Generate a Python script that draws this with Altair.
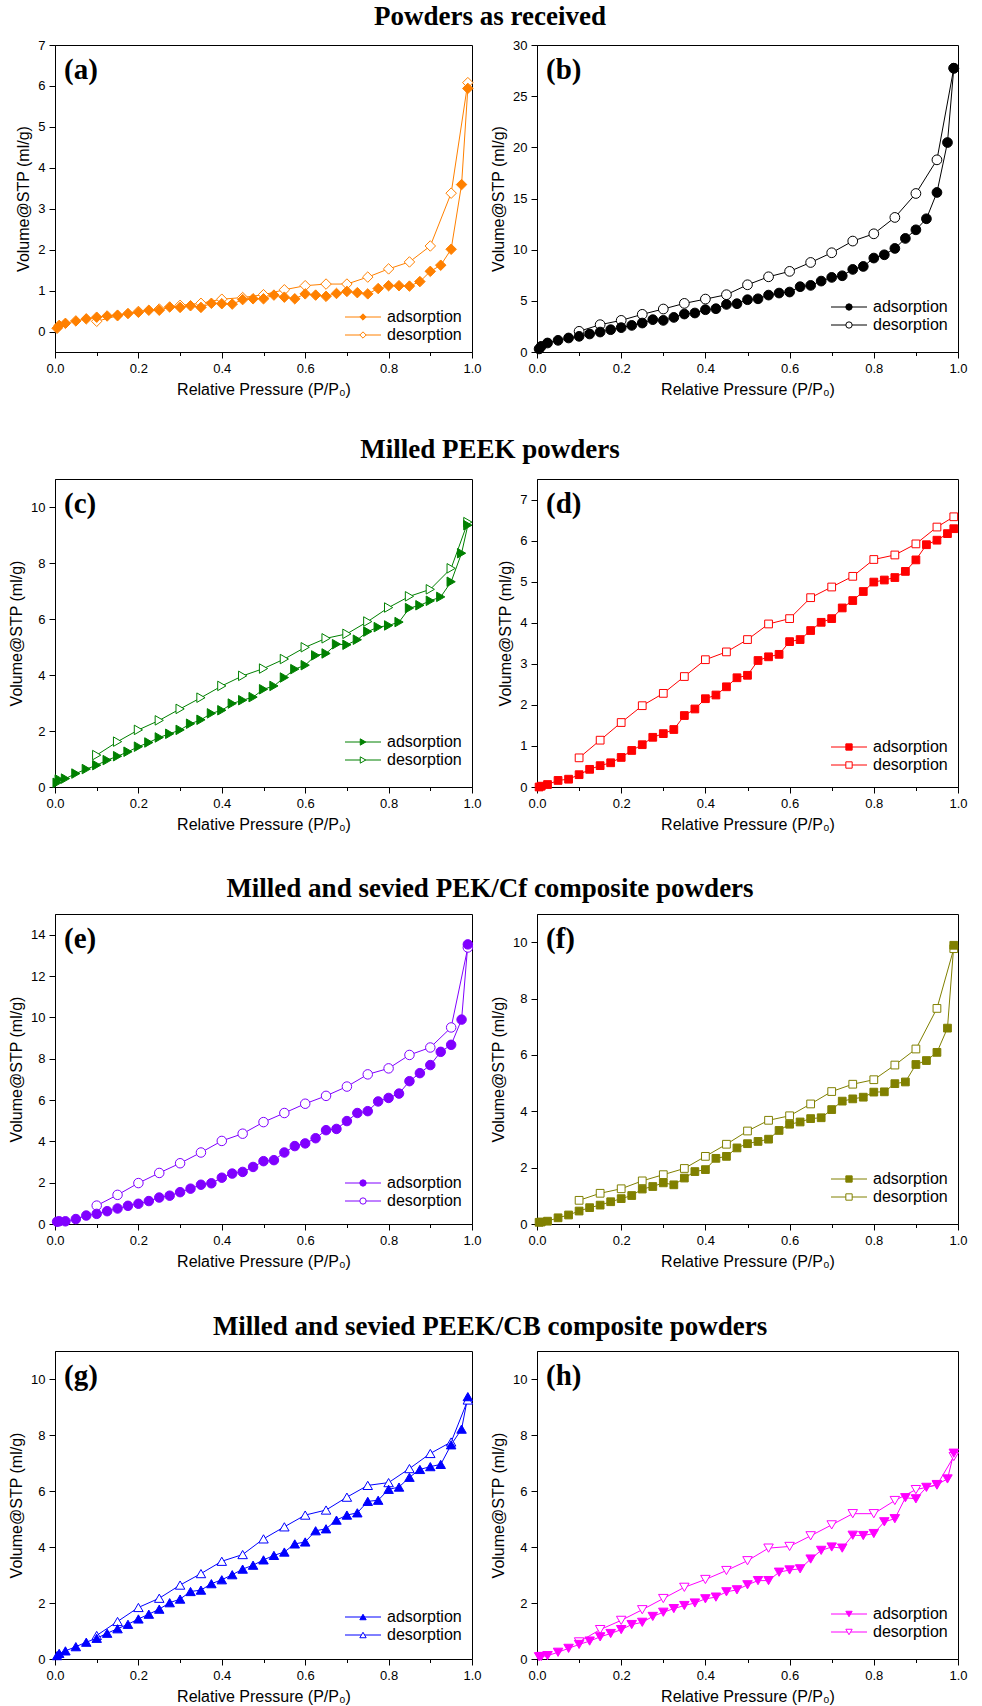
import altair as alt
import pandas as pd

# Relative pressure steps of the isotherm runs
ADS_P = [0.005, 0.01, 0.025, 0.05, 0.075, 0.1, 0.125, 0.15, 0.175, 0.2, 0.225,
         0.25, 0.275, 0.3, 0.325, 0.35, 0.375, 0.4, 0.425, 0.45, 0.475, 0.5,
         0.525, 0.55, 0.575, 0.6, 0.625, 0.65, 0.675, 0.7, 0.725, 0.75, 0.775,
         0.8, 0.825, 0.85, 0.875, 0.9, 0.925, 0.95, 0.975, 0.99]
DES_P = [0.1, 0.15, 0.2, 0.25, 0.3, 0.35, 0.4, 0.45, 0.5, 0.55, 0.6, 0.65,
         0.7, 0.75, 0.8, 0.85, 0.9, 0.95, 0.99]

# Adsorbed volume (ml/g), one pair of branches per sample
A_ADS = [0.08, 0.15, 0.2, 0.26, 0.31, 0.35, 0.38, 0.40, 0.44, 0.47, 0.52, 0.52,
         0.6, 0.59, 0.63, 0.59, 0.69, 0.68, 0.67, 0.78, 0.8, 0.8, 0.89, 0.84,
         0.8, 0.92, 0.89, 0.86, 0.93, 0.98, 0.95, 0.92, 1.05, 1.12, 1.12, 1.11,
         1.22, 1.47, 1.62, 2.01, 3.59, 5.94]
A_DES = [0.25, 0.385, 0.49, 0.55, 0.64, 0.69, 0.79, 0.83, 0.9, 1.02, 1.12, 1.16,
         1.16, 1.33, 1.53, 1.7, 2.09, 3.38, 6.08]

B_ADS = [0.3, 0.55, 0.88, 1.14, 1.37, 1.53, 1.76, 1.95, 2.18, 2.38, 2.6, 2.83,
         3.16, 3.09, 3.38, 3.71, 3.81, 4.13, 4.23, 4.65, 4.72, 5.11, 5.2, 5.56,
         5.76, 5.86, 6.38, 6.51, 6.93, 7.29, 7.45, 8.07, 8.36, 9.18, 9.5, 10.12,
         11.1, 11.94, 13.02, 15.59, 20.47, 27.73]
B_DES = [2.02, 2.67, 3.09, 3.68, 4.2, 4.75, 5.17, 5.6, 6.57, 7.35, 7.88, 8.75,
         9.7, 10.84, 11.55, 13.15, 15.49, 18.78, 27.73]

C_ADS = [0.15, 0.27, 0.3, 0.48, 0.64, 0.78, 0.96, 1.1, 1.26, 1.44, 1.59, 1.77,
         1.9, 2.04, 2.26, 2.4, 2.63, 2.74, 2.98, 3.1, 3.21, 3.49, 3.61, 3.91,
         4.21, 4.35, 4.7, 4.77, 5.1, 5.08, 5.26, 5.55, 5.71, 5.77, 5.89, 6.39,
         6.49, 6.65, 6.79, 7.33, 8.35, 9.35]
C_DES = [1.14, 1.62, 2.04, 2.38, 2.79, 3.19, 3.61, 3.97, 4.23, 4.57, 4.99, 5.31,
         5.47, 5.91, 6.41, 6.81, 7.06, 7.81, 9.46]

D_ADS = [0.0, 0.02, 0.06, 0.16, 0.19, 0.3, 0.43, 0.52, 0.59, 0.72, 0.89, 1.03,
         1.21, 1.3, 1.4, 1.74, 1.9, 2.15, 2.24, 2.44, 2.66, 2.72, 3.08, 3.17,
         3.23, 3.54, 3.59, 3.81, 4.01, 4.1, 4.36, 4.54, 4.76, 4.99, 5.04, 5.1,
         5.25, 5.53, 5.9, 6.01, 6.17, 6.29]
D_DES = [0.71, 1.14, 1.57, 1.98, 2.28, 2.69, 3.1, 3.29, 3.59, 3.97, 4.1, 4.61,
         4.87, 5.13, 5.54, 5.65, 5.92, 6.33, 6.58]

E_ADS = [0.11, 0.13, 0.13, 0.24, 0.41, 0.49, 0.62, 0.75, 0.88, 0.98, 1.11, 1.28,
         1.37, 1.54, 1.71, 1.9, 1.97, 2.24, 2.44, 2.52, 2.76, 3.04, 3.09, 3.46,
         3.77, 3.9, 4.15, 4.54, 4.6, 4.98, 5.37, 5.46, 5.93, 6.1, 6.31, 6.91,
         7.3, 7.69, 8.33, 8.67, 9.89, 13.53]
E_DES = [0.89, 1.41, 1.98, 2.47, 2.94, 3.46, 4.02, 4.37, 4.93, 5.37, 5.82, 6.2,
         6.65, 7.24, 7.53, 8.18, 8.54, 9.51, 13.38]

F_ADS = [0.06, 0.07, 0.1, 0.22, 0.32, 0.46, 0.58, 0.67, 0.79, 0.9, 1.01, 1.24,
         1.33, 1.46, 1.39, 1.63, 1.86, 1.93, 2.33, 2.4, 2.7, 2.85, 2.93, 3.01,
         3.32, 3.54, 3.62, 3.74, 3.77, 4.06, 4.36, 4.44, 4.5, 4.68, 4.69, 4.98,
         5.04, 5.66, 5.8, 6.09, 6.95, 9.89]
F_DES = [0.84, 1.09, 1.25, 1.53, 1.75, 1.97, 2.4, 2.83, 3.3, 3.68, 3.84, 4.26,
         4.7, 4.96, 5.12, 5.64, 6.21, 7.65, 9.77]

G_ADS = [0.12, 0.2, 0.29, 0.44, 0.6, 0.74, 0.92, 1.08, 1.24, 1.43, 1.6, 1.78,
         2.01, 2.14, 2.41, 2.46, 2.69, 2.83, 3.01, 3.21, 3.35, 3.54, 3.7, 3.82,
         4.11, 4.18, 4.58, 4.65, 4.96, 5.14, 5.22, 5.63, 5.67, 6.06, 6.14, 6.49,
         6.77, 6.87, 6.95, 7.65, 8.21, 9.37]
G_DES = [0.84, 1.34, 1.84, 2.17, 2.64, 3.05, 3.49, 3.73, 4.29, 4.72, 5.14, 5.32,
         5.78, 6.2, 6.3, 6.8, 7.34, 7.75, 9.25]

H_ADS = [0.08, 0.09, 0.12, 0.24, 0.38, 0.52, 0.64, 0.79, 0.91, 1.05, 1.23, 1.31,
         1.52, 1.67, 1.8, 1.91, 2.0, 2.15, 2.21, 2.4, 2.47, 2.65, 2.8, 2.8,
         3.1, 3.18, 3.22, 3.57, 3.88, 4.0, 3.96, 4.42, 4.41, 4.48, 4.9, 5.01,
         5.76, 5.72, 6.13, 6.23, 6.43, 7.35]
H_DES = [0.61, 1.05, 1.38, 1.76, 2.16, 2.56, 2.84, 3.16, 3.51, 3.96, 4.02, 4.4,
         4.79, 5.19, 5.19, 5.66, 6.05, 6.21, 7.23]

BRANCHES = ["adsorption", "desorption"]
X_TICKS = [0.0, 0.1, 0.2, 0.3, 0.4, 0.5, 0.6, 0.7, 0.8, 0.9, 1.0]
ROW_TITLES = ["Powders as received", "Milled PEEK powders",
              "Milled and sevied PEK/Cf composite powders",
              "Milled and sevied PEEK/CB composite powders"]

SANS = "Liberation Sans"
SERIF = "Liberation Serif"

PANELS = [
    dict(tag="(a)", ads=A_ADS, des=A_DES, color="#FF8000", shape="diamond", size=110,
         ymin=-0.5, ymax=7, major=1, minor=0.5, leg=35),
    dict(tag="(b)", ads=B_ADS, des=B_DES, color="#000000", shape="circle", size=95,
         ymin=0, ymax=30, major=5, minor=2.5, leg=45),
    dict(tag="(c)", ads=C_ADS, des=C_DES, color="#008000", shape="triangle-right", size=90,
         ymin=0, ymax=11, major=2, minor=1, leg=45),
    dict(tag="(d)", ads=D_ADS, des=D_DES, color="#FF0000", shape="square", size=60,
         ymin=0, ymax=7.5, major=1, minor=0.5, leg=40),
    dict(tag="(e)", ads=E_ADS, des=E_DES, color="#8000FF", shape="circle", size=90,
         ymin=0, ymax=15, major=2, minor=1, leg=41),
    dict(tag="(f)", ads=F_ADS, des=F_DES, color="#808000", shape="square", size=60,
         ymin=0, ymax=11, major=2, minor=1, leg=45),
    dict(tag="(g)", ads=G_ADS, des=G_DES, color="#0000FF", shape="triangle-up", size=90,
         ymin=0, ymax=11, major=2, minor=1, leg=42),
    dict(tag="(h)", ads=H_ADS, des=H_DES, color="#FF00FF", shape="triangle-down", size=90,
         ymin=0, ymax=11, major=2, minor=1, leg=45),
]

WIDTHS = [417, 421]
HEIGHTS = [307, 308, 310, 308]
# baseline of each row heading, measured from the top of that row's plots
TITLE_DY = [-20, -21, -17, -16]
TITLE_X = 435


def panel(i, cfg):
    col, row = i % 2, i // 2
    w, h = WIDTHS[col], HEIGHTS[row]
    color = cfg["color"]

    df = pd.concat([
        pd.DataFrame({"p": ADS_P, "v": cfg["ads"], "branch": BRANCHES[0]}),
        pd.DataFrame({"p": DES_P, "v": cfg["des"], "branch": BRANCHES[1]}),
    ], ignore_index=True)

    x_axis = alt.Axis(
        values=X_TICKS,
        labelExpr="round(datum.value*10) % 2 === 0 ? format(datum.value, '.1f') : ''",
        tickSize={"condition": {"test": "round(datum.value*10) % 2 === 1", "value": 3.5},
                  "value": 6},
        labelOverlap=False, labelFlush=False,
        title="Relative Pressure (P/P\u2080)",
    )
    # ticks every minor step from zero upwards; labels on the major steps only
    step, lo, hi = cfg["minor"], cfg["ymin"], cfg["ymax"]
    y_ticks = []
    t = 0.0
    while t <= hi + 1e-9:
        y_ticks.append(round(t, 3))
        t += step
    M = cfg["major"]
    major_test = f"abs(datum.value/{M} - round(datum.value/{M})) < 0.001"
    y_axis = alt.Axis(
        values=y_ticks,
        labelExpr=f"{major_test} ? format(datum.value, 'd') : ''",
        tickSize={"condition": {"test": f"!({major_test})", "value": 3.5}, "value": 6},
        labelOverlap=False, labelFlush=False,
        title="Volume@STP (ml/g)",
    )

    X = alt.X("p:Q", scale=alt.Scale(domain=[0, 1], nice=False, zero=False), axis=x_axis)
    Y = alt.Y("v:Q", scale=alt.Scale(domain=[lo, hi], nice=False, zero=False),
              axis=y_axis)

    base = alt.Chart(df)
    lines = base.mark_line(color=color, strokeWidth=1).encode(
        x=X, y=Y, detail="branch:N", order="p:Q")
    ads = base.transform_filter(alt.datum.branch == BRANCHES[0]).mark_point(
        shape=cfg["shape"], size=cfg["size"], filled=True, fill=color, stroke=color,
        strokeWidth=1, opacity=1).encode(x="p:Q", y="v:Q")
    des = base.transform_filter(alt.datum.branch == BRANCHES[1]).mark_point(
        shape=cfg["shape"], size=cfg["size"], filled=True, fill="white", stroke=color,
        strokeWidth=1, opacity=1).encode(x="p:Q", y="v:Q")

    layers = [lines, des, ads]

    # in-plot legend: short line with marker, then the branch name
    leg_df = pd.DataFrame({"label": BRANCHES})
    for k, name in enumerate(BRANCHES):
        ly = h - cfg["leg"] + 18 * k
        lb = alt.Chart(leg_df).transform_filter(alt.datum.label == name)
        layers.append(lb.mark_rule(color=color, strokeWidth=1).encode(
            x=alt.value(w - 127), x2=alt.value(w - 91), y=alt.value(ly)))
        layers.append(lb.mark_point(
            shape=cfg["shape"], size=40, filled=True,
            fill=color if k == 0 else "white", stroke=color, strokeWidth=1, opacity=1
        ).encode(x=alt.value(w - 109), y=alt.value(ly)))
        layers.append(lb.mark_text(
            align="left", baseline="middle", font=SANS, fontSize=16, color="black"
        ).encode(x=alt.value(w - 85), y=alt.value(ly), text="label:N"))

    tag_df = pd.DataFrame({"tag": [cfg["tag"]]})
    layers.append(alt.Chart(tag_df).mark_text(
        align="left", baseline="alphabetic", font=SERIF, fontSize=29, fontWeight="bold",
        color="black").encode(x=alt.value(9), y=alt.value(34), text="tag:N"))

    if col == 0:
        head_df = pd.DataFrame({"heading": [ROW_TITLES[row]]})
        layers.append(alt.Chart(head_df).mark_text(
            align="center", baseline="alphabetic", font=SERIF, fontSize=27,
            fontWeight="bold", color="black").encode(
            x=alt.value(TITLE_X), y=alt.value(TITLE_DY[row]), text="heading:N"))

    return alt.layer(*layers).properties(width=w, height=h)


charts = [panel(i, cfg) for i, cfg in enumerate(PANELS)]

chart = alt.concat(
    *charts, columns=2, bounds="flush", spacing={"row": 127, "column": 65}
).properties(
    padding={"left": 8, "top": 2, "right": 5, "bottom": 2},
    background="white",
).configure_view(
    stroke="black", strokeWidth=1
).configure_axis(
    grid=False,
    domainColor="black", domainWidth=1,
    tickColor="black", tickWidth=1,
    labelFont=SANS, labelFontSize=13, labelColor="black", labelPadding=4,
    titleFont=SANS, titleFontSize=16, titleFontWeight="normal", titleColor="black",
    titlePadding=6,
)

chart.save("out.html", embed_options={"renderer": "svg", "actions": False})
